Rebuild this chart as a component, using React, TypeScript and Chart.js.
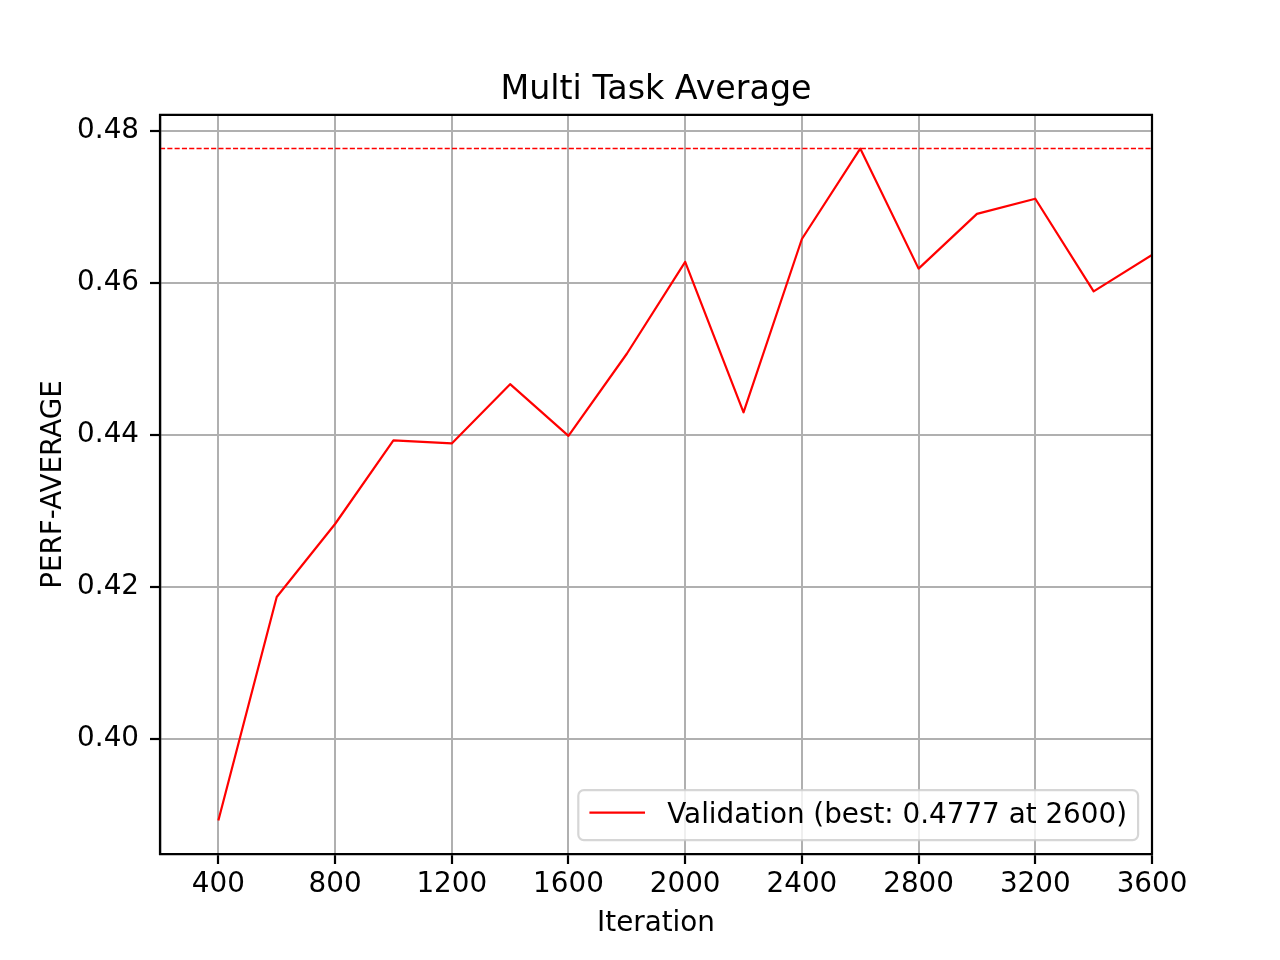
import { useEffect, useRef } from "react";
import { Chart, registerables } from "chart.js";

Chart.register(...registerables);

const iterations = [400, 600, 800, 1000, 1200, 1400, 1600, 1800, 2000, 2200, 2400, 2600, 2800, 3000, 3200, 3400, 3600];
const perfAverage = [0.3893, 0.4187, 0.4283, 0.4393, 0.4389, 0.4467, 0.4399, 0.4507, 0.4628, 0.443, 0.4658, 0.4777, 0.4619, 0.4691, 0.4711, 0.4589, 0.4637];
const xTicks = [400, 800, 1200, 1600, 2000, 2400, 2800, 3200, 3600];
const yTicks = [0.4, 0.42, 0.44, 0.46, 0.48];
const xLimits = [200, 3600];

const FONT = "'DejaVu Sans', 'Liberation Sans', sans-serif";

export default function App() {
  const ref = useRef<HTMLCanvasElement | null>(null);

  useEffect(() => {
    const canvas = ref.current;
    if (!canvas) return;

    const bestVal = Math.max(...perfAverage);
    const bestIter = iterations[perfAverage.indexOf(bestVal)];
    const dMin = Math.min(...perfAverage);
    const dRange = bestVal - dMin;
    const yMin = dMin - 0.05 * dRange;
    const yMax = bestVal + 0.05 * dRange;
    const legendLabel = `Validation (best: ${bestVal.toFixed(4)} at ${bestIter})`;

    const framePlugin = {
      id: "frame",
      afterDraw(chart: any) {
        const { ctx, chartArea } = chart;
        const { left, right, top, bottom } = chartArea;
        ctx.save();
        ctx.strokeStyle = "#000";
        ctx.lineWidth = 2.2;
        ctx.lineCap = "square";
        ctx.beginPath();
        ctx.moveTo(left, bottom);
        ctx.lineTo(left, top);
        ctx.lineTo(right, top);
        ctx.lineTo(right, bottom);
        ctx.lineTo(left, bottom);
        ctx.stroke();

        // legend (lower right)
        const fs = 27.8;
        ctx.font = `${fs}px ${FONT}`;
        const textW = ctx.measureText(legendLabel).width;
        const pad = 0.4 * fs;
        const handleLen = 2.0 * fs;
        const handleGap = 0.8 * fs;
        const boxW = pad + handleLen + handleGap + textW + pad;
        const boxH = 50;
        const bx = right - 0.5 * fs - boxW;
        const by = bottom - 0.5 * fs - boxH;
        const r = 0.2 * fs;
        ctx.beginPath();
        ctx.moveTo(bx + r, by);
        ctx.lineTo(bx + boxW - r, by);
        ctx.arcTo(bx + boxW, by, bx + boxW, by + r, r);
        ctx.lineTo(bx + boxW, by + boxH - r);
        ctx.arcTo(bx + boxW, by + boxH, bx + boxW - r, by + boxH, r);
        ctx.lineTo(bx + r, by + boxH);
        ctx.arcTo(bx, by + boxH, bx, by + boxH - r, r);
        ctx.lineTo(bx, by + r);
        ctx.arcTo(bx, by, bx + r, by, r);
        ctx.closePath();
        ctx.fillStyle = "rgba(255,255,255,0.8)";
        ctx.fill();
        ctx.strokeStyle = "rgba(204,204,204,0.8)";
        ctx.lineWidth = 2.2;
        ctx.stroke();

        const cy = by + 22.5;
        ctx.strokeStyle = "#ff0000";
        ctx.lineWidth = 2.2;
        ctx.lineCap = "butt";
        ctx.beginPath();
        ctx.moveTo(bx + pad, cy);
        ctx.lineTo(bx + pad + handleLen, cy);
        ctx.stroke();

        ctx.fillStyle = "#000";
        ctx.textAlign = "left";
        ctx.textBaseline = "middle";
        ctx.fillText(legendLabel, bx + pad + handleLen + handleGap, cy + 3.5);
        ctx.restore();
      },
    };

    const chart = new Chart(canvas, {
      type: "line",
      data: {
        datasets: [
          {
            label: legendLabel,
            data: iterations.map((x, i) => ({ x, y: perfAverage[i] })),
            borderColor: "#ff0000",
            borderWidth: 2.2,
            pointRadius: 0,
            tension: 0,
            borderJoinStyle: "round",
            order: 1,
          },
          {
            label: "best",
            data: [
              { x: xLimits[0], y: bestVal },
              { x: xLimits[1], y: bestVal },
            ],
            borderColor: "#ff0000",
            borderWidth: 1.4,
            borderDash: [5.1, 2.2],
            pointRadius: 0,
            order: 2,
          },
        ],
      },
      options: {
        animation: false,
        responsive: false,
        maintainAspectRatio: false,
        layout: { padding: { left: 0, right: 128, top: 0, bottom: 0 } },
        plugins: {
          legend: { display: false },
          tooltip: { enabled: false },
          title: {
            display: true,
            fullSize: false,
            text: "Multi Task Average",
            color: "#000",
            font: { family: FONT, size: 33.3, weight: "normal", lineHeight: 1.2 },
            padding: { top: 70, bottom: 5 },
          },
        },
        scales: {
          x: {
            type: "linear",
            min: xLimits[0],
            max: xLimits[1],
            afterBuildTicks: (scale: any) => {
              scale.ticks = xTicks.map((value) => ({ value }));
            },
            afterFit: (scale: any) => {
              scale.height = 106;
            },
            ticks: {
              color: "#000",
              font: { family: FONT, size: 27.8, lineHeight: 1.2 },
              padding: 4,
              maxRotation: 0,
              autoSkip: false,
              callback: (v: any) => String(v),
            },
            grid: {
              color: "#b0b0b0",
              lineWidth: 2,
              tickColor: "#000",
              tickLength: 10,
              tickWidth: 2.2,
            },
            border: { display: true, color: "#000", width: 2.2 },
            title: {
              display: true,
              text: "Iteration",
              color: "#000",
              font: { family: FONT, size: 27.8, lineHeight: 1.2 },
              padding: { top: 0, bottom: 19.9 },
            },
          },
          y: {
            type: "linear",
            min: yMin,
            max: yMax,
            afterBuildTicks: (scale: any) => {
              scale.ticks = yTicks.map((value) => ({ value }));
            },
            afterFit: (scale: any) => {
              scale.width = 160;
            },
            ticks: {
              color: "#000",
              font: { family: FONT, size: 27.8, lineHeight: 1.2 },
              padding: 11,
              autoSkip: false,
              callback: (v: any) => Number(v).toFixed(2),
            },
            grid: {
              color: "#b0b0b0",
              lineWidth: 2,
              tickColor: "#000",
              tickLength: 10,
              tickWidth: 2.2,
            },
            border: { display: true, color: "#000", width: 2.2 },
            title: {
              display: true,
              text: "PERF-AVERAGE",
              color: "#000",
              font: { family: FONT, size: 27.8, lineHeight: 1.2 },
              padding: { top: 37, bottom: 0 },
            },
          },
        },
      },
      plugins: [framePlugin],
    });

    return () => chart.destroy();
  }, []);

  return (
    <div style={{ position: "fixed", left: 0, top: 0, width: 1280, height: 960, background: "#fff" }}>
      <canvas ref={ref} width={1280} height={960} style={{ width: 1280, height: 960, display: "block" }} />
    </div>
  );
}
